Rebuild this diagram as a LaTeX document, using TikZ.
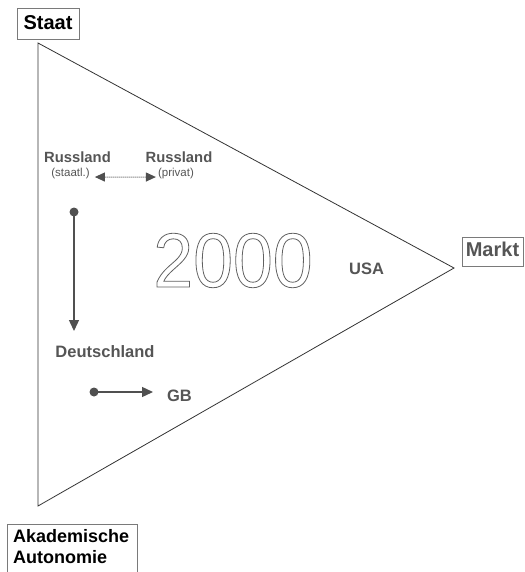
\documentclass[tikz,border=0pt]{standalone}
\usepackage{fontspec}
\setmainfont{Liberation Sans}
\newfontfamily\digitfont[FakeStretch=0.93]{Liberation Sans}
\usetikzlibrary{arrows.meta}
\definecolor{txtgray}{HTML}{555555}
\definecolor{linegray}{HTML}{333333}
\definecolor{boxgray}{HTML}{7A7A7A}
\definecolor{arrgray}{HTML}{505050}
% outlined (stroked) glyphs through the PDF text rendering mode
\newcommand{\outlinetext}[1]{%
  \special{pdf:literal direct q 1 Tr 0.8 w 0.38 0.38 0.38 RG}#1\special{pdf:literal direct 0 Tr Q}}
\begin{document}
\begin{tikzpicture}[x=1pt,y=-1pt,
  cornerbox/.style={draw=boxgray, line width=0.8pt, inner sep=0pt},
  bigbold/.style={font=\fontsize{20}{24}\selectfont\bfseries},
  label/.style={font=\fontsize{16.5}{20}\selectfont\bfseries, text=txtgray, inner sep=0pt, anchor=base},
  smalllabel/.style={font=\fontsize{14.8}{18}\selectfont\bfseries, text=txtgray, inner sep=0pt, anchor=base},
  sublabel/.style={font=\fontsize{11.5}{14}\selectfont, text=txtgray, inner sep=0pt, anchor=base},
  dotstyle/.style={circle, fill=arrgray, inner sep=0pt, minimum size=9pt},
  flow/.style={draw=arrgray, line width=1.4pt, -{Triangle[length=11pt, width=10pt]}},
]
\useasboundingbox (0,0) rectangle (524,572);

% the triangle spanned by the three poles
\coordinate (vstaat) at (38,43);
\coordinate (vmarkt) at (454,268);
\coordinate (vakad) at (38,506);
\draw[linegray, line width=0.8pt] (vstaat) -- (vmarkt) -- (vakad) -- cycle;

% pole labels
\node[cornerbox, bigbold, minimum width=62pt, minimum height=31pt,
      text height=15pt, text depth=3.5pt] (staat) at (48,23.5) {Staat};
\node[cornerbox, bigbold, text=txtgray, minimum width=61pt, minimum height=29pt,
      text height=14pt, text depth=4pt] (markt) at (492.5,251.5) {Markt};
\node[cornerbox, minimum width=130pt, minimum height=70pt, anchor=north west] (akadbox) at (7,524) {};
\node[font=\fontsize{18}{21}\selectfont\bfseries, align=left, inner sep=0pt, anchor=north west]
  (akad) at (13,529) {Akademische\\Autonomie};

% year
\node[inner sep=0pt] (year) at (233,260.5)
  {\digitfont\fontsize{77}{80}\selectfont\outlinetext{2000}};

% countries
\node[smalllabel] (rusA) at (77.5,162) {Russland};
\node[sublabel] (rusAsub) at (70.5,176.5) {(staatl.)};
\node[smalllabel] (rusB) at (179,162) {Russland};
\node[sublabel] (rusBsub) at (176,176.5) {(privat)};
\node[label] (usa) at (366.5,274) {USA};
\node[label] (de) at (105,357) {Deutschland};
\node[label] (gb) at (179.5,401) {GB};

% dotted exchange between the two Russian sectors
\draw[draw=arrgray, line width=1pt, dash pattern=on 1pt off 1pt,
      {Triangle[length=10pt, width=9pt]}-{Triangle[length=10pt, width=9pt]}]
  ([xshift=5pt, yshift=-3.5pt]rusAsub.east) -- ([xshift=-2pt, yshift=-3.5pt]rusBsub.west);

% movement towards Deutschland
\node[dotstyle] (dotA) at (74,212) {};
\coordinate (tipA) at (74,331);
\draw[flow] (dotA.center) -- (tipA);

% movement towards GB
\node[dotstyle] (dotB) at (94,392) {};
\coordinate (tipB) at (153,392);
\draw[flow] (dotB.center) -- (tipB);
\end{tikzpicture}
\end{document}
